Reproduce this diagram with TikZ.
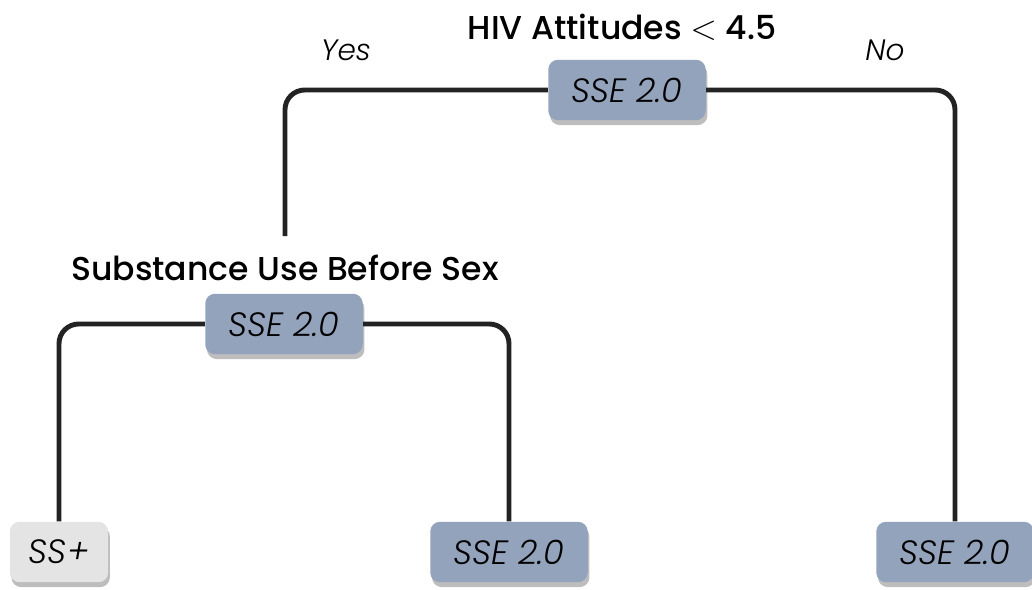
\documentclass[tikz,border=0pt]{standalone}
\usepackage{fontspec}
\setmainfont{Poppins}[BoldFont={Poppins Medium}, ItalicFont={Poppins Light Italic}]
\usetikzlibrary{shadows}
\definecolor{boxblue}{HTML}{93A3BC}
\definecolor{boxgray}{HTML}{E4E4E4}
\definecolor{linegray}{HTML}{232323}
\definecolor{shadowgray}{HTML}{BDBDBD}
\tikzset{
	sse/.style={
			fill=boxblue, rounded corners=7pt, minimum width=112pt, minimum height=43pt,
			font=\fontsize{24}{26}\selectfont\itshape,
			drop shadow={shadow xshift=1.2pt, shadow yshift=-3.5pt, fill=shadowgray, opacity=1}
		},
	leaf/.style={sse, fill=boxgray, minimum width=70pt},
	split/.style={font=\fontsize{23.5}{26}\selectfont\bfseries},
	answer/.style={font=\fontsize{21}{24}\selectfont\itshape},
	branch/.style={draw=linegray, line width=3.5pt, rounded corners=14pt}
}

\begin{document}
\begin{tikzpicture}[x=0.025cm, y=-0.025cm]
	\useasboundingbox (0,0) rectangle (1032,590);

	% Root split
	\node[split] (rootlabel) at (622, 27) {HIV Attitudes $<$ 4.5};
	\node[sse] (root) at (627, 90) {SSE 2.0};
	\node[answer] (yes) at (346, 50) {Yes};
	\node[answer] (no) at (885, 50) {No};

	% Second split
	\node[split] (sublabel) at (285, 268) {Substance Use Before Sex};
	\node[sse] (sub) at (284, 324) {SSE 2.0};

	% Leaves
	\node[leaf] (leafa) at (59, 552) {SS+};
	\node[sse] (leafb) at (509, 552) {SSE 2.0};
	\node[sse] (leafc) at (955, 552) {SSE 2.0};

	% Branches
	\draw[branch, shorten >=10pt] (root.west) -| (sublabel.north);
	\draw[branch] (root.east) -| (leafc.north);
	\draw[branch] (sub.west) -| (leafa.north);
	\draw[branch] (sub.east) -| (leafb.north);
\end{tikzpicture}
\end{document}
